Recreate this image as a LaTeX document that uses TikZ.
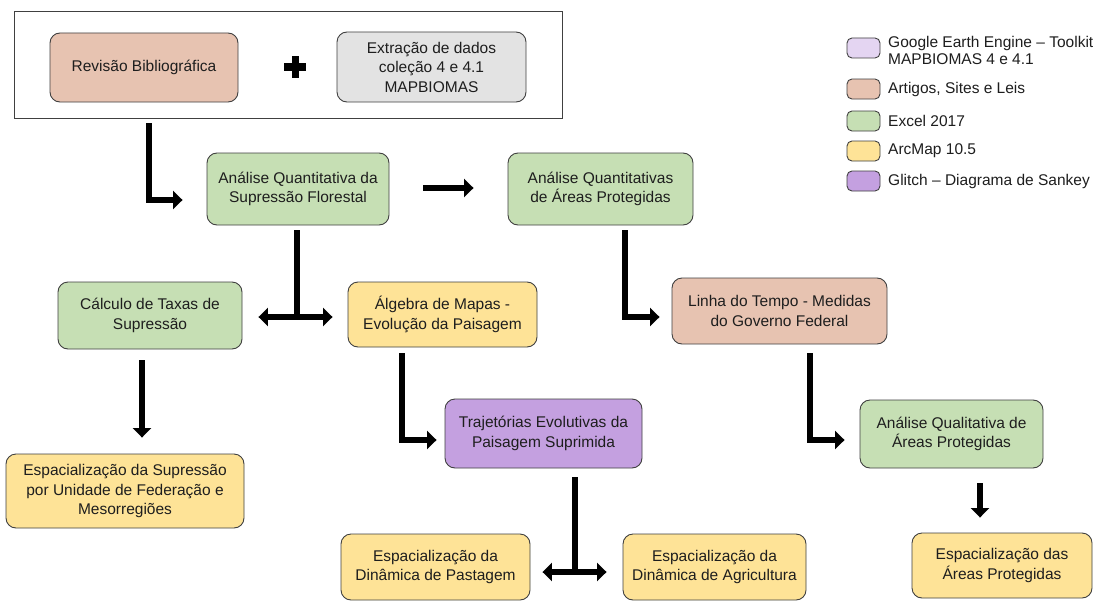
\documentclass[tikz,border=0pt]{standalone}
\usepackage{fontspec}
\setmainfont{Liberation Sans}
\usetikzlibrary{arrows.meta,calc}
\definecolor{bord}{HTML}{404040}
\definecolor{txt}{HTML}{1E1E1E}
\definecolor{cpink}{HTML}{E7C3B1}
\definecolor{cgray}{HTML}{E3E3E3}
\definecolor{cgreen}{HTML}{C6DFB4}
\definecolor{cyellow}{HTML}{FEE397}
\definecolor{cpurple}{HTML}{C4A0E0}
\definecolor{clav}{HTML}{E4D5F2}
\tikzset{
  box/.style={draw=bord, line width=0.9pt, rounded corners=10pt, align=center,
    inner sep=0pt, text=txt, font=\fontsize{15.5}{19.5}\selectfont},
  swatch/.style={draw=bord, line width=0.9pt, rounded corners=5pt,
    minimum width=33pt, minimum height=20pt, inner sep=0pt},
  legtext/.style={anchor=west, align=left, inner sep=0pt, text=txt,
    font=\fontsize{15.5}{17}\selectfont},
  conn/.style={line width=6.5pt, line join=miter, -{Triangle[length=9.5pt,width=18pt]}},
  conn2/.style={line width=6.5pt, {Triangle[length=9.5pt,width=18pt]}-{Triangle[length=9.5pt,width=18pt]}},
  bar/.style={line width=6.5pt}
}
\begin{document}
\begin{tikzpicture}[x=1pt,y=-1pt]
\useasboundingbox (0,0) rectangle (1102,602);
\fill[white] (0,0) rectangle (1102,602);

% top frame
\node[draw=bord, line width=0.9pt, minimum width=548pt, minimum height=107pt, inner sep=0pt] (frame) at (288,64.5) {};
\node[box, fill=cpink, minimum width=188pt, minimum height=69pt] (rev) at (144,67.5) {Revisão Bibliográfica};
\node[box, fill=cgray, minimum width=189pt, minimum height=70pt] (ext) at (431.5,67) {Extração de dados\\coleção 4 e 4.1\\MAPBIOMAS};
\coordinate (plus) at (295,67);
\fill[black] ($(plus)+(-11,-3.5)$) rectangle ($(plus)+(11,3.5)$);
\fill[black] ($(plus)+(-3.5,-11)$) rectangle ($(plus)+(3.5,11)$);

% legend
\node[swatch, fill=clav] (l1) at (863.5,48) {};
\node[swatch, fill=cpink] (l2) at (863.5,89) {};
\node[swatch, fill=cgreen] (l3) at (863.5,121) {};
\node[swatch, fill=cyellow] (l4) at (863.5,151) {};
\node[swatch, fill=cpurple] (l5) at (863.5,181) {};
\node[legtext] (t1) at (888,50) {Google Earth Engine – Toolkit\\MAPBIOMAS 4 e 4.1};
\node[legtext] (t2) at (888,89) {Artigos, Sites e Leis};
\node[legtext] (t3) at (888,121) {Excel 2017};
\node[legtext] (t4) at (888,151) {ArcMap 10.5};
\node[legtext] (t5) at (888,181) {Glitch – Diagrama de Sankey};

% main boxes
\node[box, fill=cgreen, minimum width=182pt, minimum height=72pt] (qs) at (298,189) {Análise Quantitativa da\\Supressão Florestal};
\node[box, fill=cgreen, minimum width=185pt, minimum height=72pt] (qa) at (600.5,189) {Análise Quantitativas\\de Áreas Protegidas};
\node[box, fill=cgreen, minimum width=184pt, minimum height=67pt] (calc) at (150,315.5) {Cálculo de Taxas de\\Supressão};
\node[box, fill=cyellow, minimum width=189pt, minimum height=65pt] (alg) at (442.5,314.5) {Álgebra de Mapas -\\Evolução da Paisagem};
\node[box, fill=cpink, minimum width=215pt, minimum height=66pt] (linha) at (779.5,311) {Linha do Tempo - Medidas\\do Governo Federal};
\node[box, fill=cyellow, minimum width=238pt, minimum height=74pt] (esup) at (125,491) {Espacialização da Supressão\\por Unidade de Federação e\\Mesorregiões};
\node[box, fill=cpurple, minimum width=197pt, minimum height=69pt] (traj) at (543.5,433.5) {Trajetórias Evolutivas da\\Paisagem Suprimida};
\node[box, fill=cgreen, minimum width=183pt, minimum height=68pt] (qual) at (951.5,434) {Análise Qualitativa de\\Áreas Protegidas};
\node[box, fill=cyellow, minimum width=189pt, minimum height=66pt] (past) at (435.5,567) {Espacialização da\\Dinâmica de Pastagem};
\node[box, fill=cyellow, minimum width=183pt, minimum height=66pt] (agri) at (714.5,567) {Espacialização da\\Dinâmica de Agricultura};
\node[box, fill=cyellow, minimum width=180pt, minimum height=65pt] (areas) at (1002,565.5) {Espacialização das\\Áreas Protegidas};

% connectors
\coordinate (x1) at (149,0);
\draw[conn] ($(frame.south -| x1)+(0,5)$) |- ($(qs.west)+(-24,11)$);
\draw[conn] ($(qs.east)+(34,-1)$) -- ($(qa.west)+(-34,-1)$);

\coordinate (j1) at (297,317);
\draw[bar] ($(qs.south -| j1)+(0,5)$) -- ($(j1)+(0,3.25)$);
\draw[conn2] ($(calc.east)+(16,1.5)$) -- ($(alg.west)+(-15,2.5)$);

\coordinate (x2) at (625,0);
\draw[conn] ($(qa.south -| x2)+(0,5)$) |- ($(linha.west)+(-12,6)$);
\coordinate (x3) at (810,0);
\draw[conn] ($(linha.south -| x3)+(0,9)$) |- ($(qual.west)+(-15,6)$);
\coordinate (x4) at (402,0);
\draw[conn] ($(alg.south -| x4)+(0,6)$) |- ($(traj.west)+(-8,6.5)$);

\coordinate (j2) at (575,572);
\draw[bar] ($(traj.south -| j2)+(0,9)$) -- ($(j2)+(0,3.25)$);
\draw[conn2] ($(past.east)+(12,5)$) -- ($(agri.west)+(-16,5)$);

\coordinate (x5) at (142,0);
\draw[conn] ($(calc.south -| x5)+(0,11)$) -- ($(esup.north -| x5)+(0,-16)$);
\coordinate (x6) at (980,0);
\draw[conn] ($(qual.south -| x6)+(0,15)$) -- ($(areas.north -| x6)+(0,-15)$);
\end{tikzpicture}
\end{document}
